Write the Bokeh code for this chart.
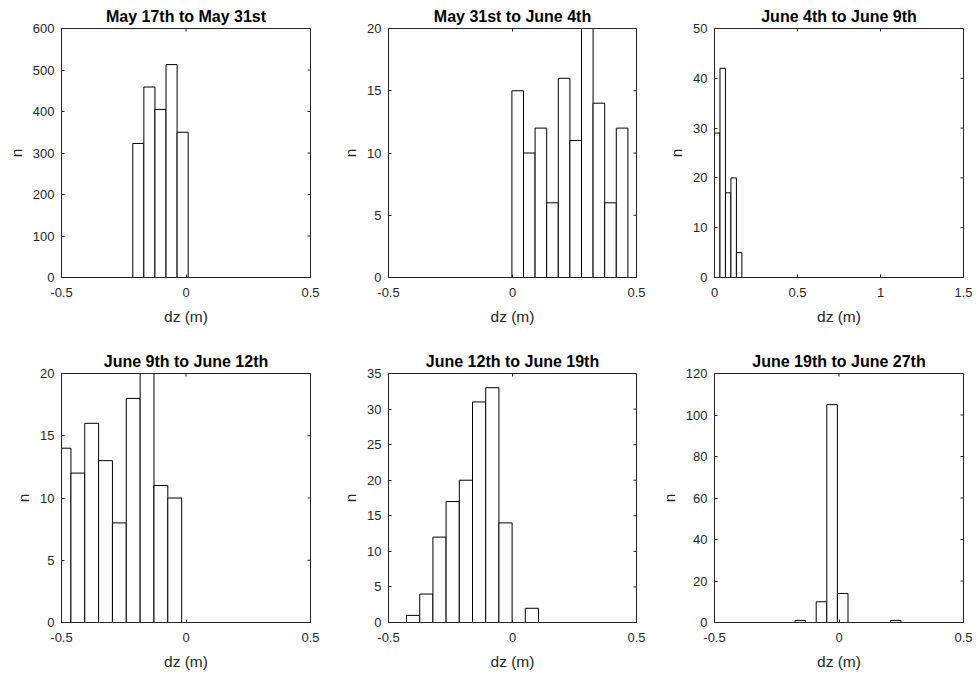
import numpy as np
from bokeh.plotting import figure
from bokeh.layouts import gridplot
from bokeh.models import FixedTicker, Range1d
from bokeh.embed import file_html
from bokeh.resources import INLINE

# ---- data ----
titles = ["May 17th to May 31st", "May 31st to June 4th", "June 4th to June 9th",
          "June 9th to June 12th", "June 12th to June 19th", "June 19th to June 27th"]

counts_1 = [323, 459, 405, 513, 350]
counts_2 = [15, 10, 12, 6, 16, 11, 20, 14, 6, 12]
counts_3 = [29, 42, 17, 20, 5]
counts_4 = [14, 12, 16, 13, 8, 18, 20, 11, 10]
counts_5 = [1, 4, 12, 17, 20, 31, 33, 14, 0, 2]
counts_6 = [1, 0, 10, 105, 14, 0, 0, 0, 0, 1]

bin_start = [-0.2137, -0.0024, 0.0, -0.5178, -0.4274, -0.1767]
bin_width = [0.0445, 0.04677, 0.033, 0.0556, 0.05323, 0.04257]

x_ticks_std = [-0.5, 0, 0.5]
x_labels_std = ["-0.5", "0", "0.5"]
x_ticks_p3 = [0, 0.5, 1, 1.5]
x_labels_p3 = ["0", "0.5", "1", "1.5"]

y_max = [600, 20, 50, 20, 35, 120]
y_step = [100, 5, 10, 5, 5, 20]

x_label = "dz (m)"
y_label = "n"

all_counts = [counts_1, counts_2, counts_3, counts_4, counts_5, counts_6]

# ---- layout (pixels) ----
frame_w = [249, 248, 249]
left_b = [61, 58, 58]
right_b = [20, 20, 10]
frame_h = 249
top_b = [28, 46]
bottom_b = [50, 50]
TICK = 3

AX = "#262626"
FONT = "Liberation Sans"

figs = []
for i in range(6):
    r, c = divmod(i, 3)
    if i == 2:
        xt, xl, xr = x_ticks_p3, x_labels_p3, (0, 1.5)
    else:
        xt, xl, xr = x_ticks_std, x_labels_std, (-0.5, 0.5)
    p = figure(width=left_b[c] + frame_w[c] + right_b[c],
               height=top_b[r] + frame_h + bottom_b[r],
               x_range=Range1d(*xr), y_range=Range1d(0, y_max[i]),
               output_backend="svg", toolbar_location=None,
               min_border_left=left_b[c], min_border_right=right_b[c],
               min_border_top=top_b[r], min_border_bottom=bottom_b[r],
               title=titles[i])
    p.title.text_font = FONT
    p.title.text_font_size = "16px"
    p.title.text_font_style = "bold"
    p.title.text_color = "black"
    p.title.align = "center"
    p.title.standoff = 8
    p.grid.visible = False
    p.outline_line_color = AX
    p.background_fill_color = "white"
    p.border_fill_color = "white"

    yt = list(range(0, y_max[i] + 1, y_step[i]))
    edges = bin_start[i] + bin_width[i] * np.arange(len(all_counts[i]) + 1)
    p.quad(left=edges[:-1], right=edges[1:], bottom=0, top=all_counts[i],
           fill_color="white", line_color="black", line_width=1)

    # mirrored inward tick marks on the top and right edges of the box
    dy = TICK * y_max[i] / frame_h
    dx = TICK * (xr[1] - xr[0]) / frame_w[c]
    p.segment(x0=xt, x1=xt, y0=[y_max[i]] * len(xt), y1=[y_max[i] - dy] * len(xt),
              line_color=AX, line_width=1)
    p.segment(x0=[xr[1]] * len(yt), x1=[xr[1] - dx] * len(yt), y0=yt, y1=yt,
              line_color=AX, line_width=1)

    overrides = {float(t): s for t, s in zip(xt, xl)}
    p.xaxis.ticker = FixedTicker(ticks=xt)
    p.xaxis.major_label_overrides = overrides
    p.yaxis.ticker = FixedTicker(ticks=yt)
    p.xaxis.axis_label = x_label
    p.yaxis.axis_label = y_label
    for ax in (p.xaxis[0], p.yaxis[0]):
        ax.major_tick_in = TICK
        ax.major_tick_out = 0
        ax.minor_tick_line_color = None
        ax.axis_line_color = AX
        ax.major_tick_line_color = AX
        ax.major_label_text_color = AX
        ax.major_label_text_font = FONT
        ax.major_label_text_font_size = "13px"
        ax.axis_label_text_font = FONT
        ax.axis_label_text_font_size = "15.5px"
        ax.axis_label_text_font_style = "normal"
        ax.axis_label_text_color = AX
    p.xaxis.major_label_standoff = 10
    p.yaxis.major_label_standoff = 7
    p.xaxis.axis_label_standoff = 8
    p.yaxis.axis_label_standoff = 5
    figs.append(p)

grid = gridplot([figs[0:3], figs[3:6]], toolbar_location=None)
open("out.html", "w").write(file_html(grid, INLINE))
